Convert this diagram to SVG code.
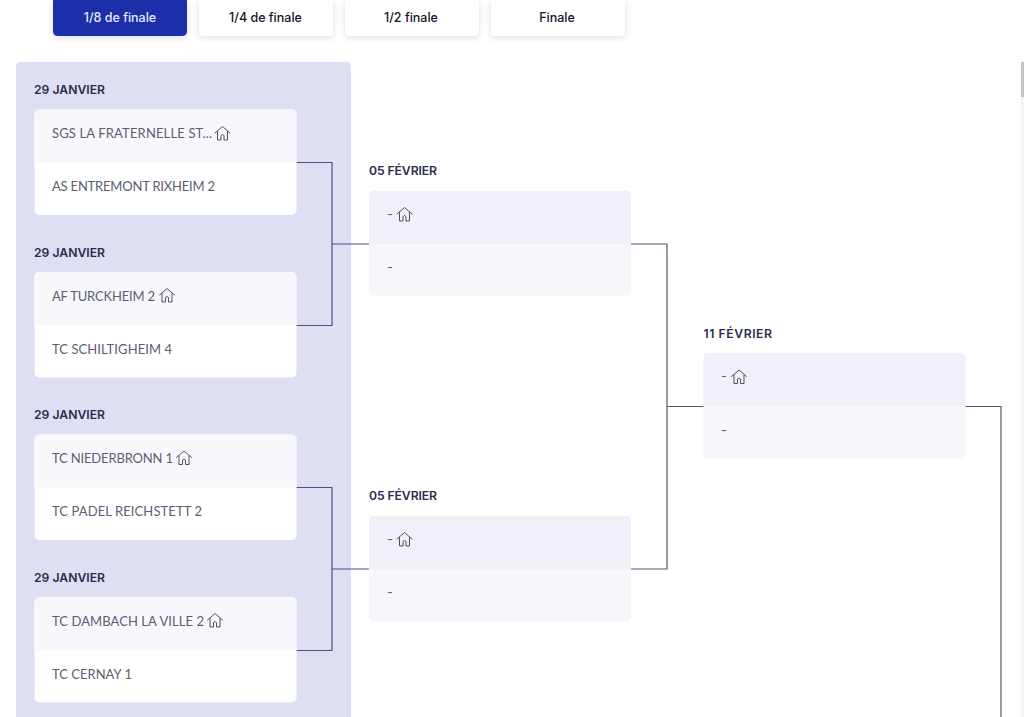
<svg xmlns="http://www.w3.org/2000/svg" width="1024" height="717" viewBox="0 0 1024 717">
<style>
.tab{fill:#fff;filter:url(#sh)}
.tabt{font:500 12.5px Inter,"Liberation Sans",sans-serif;fill:#15152b;text-anchor:middle}
.date{font:600 12.2px Inter,"Liberation Sans",sans-serif;fill:#2b2b4a}
.name{font:400 13px Lato,"Liberation Sans",sans-serif;fill:#5c5d70}
.conn{fill:none;stroke:#4d4f8e;stroke-width:1.2}
.conn2{fill:none;stroke:#55566e;stroke-width:1.2}
.ic{fill:none;stroke:#4f4f62;stroke-width:1;stroke-linejoin:round;stroke-linecap:round}
</style>
<defs>
<filter id="sh" x="-20%" y="-30%" width="140%" height="170%"><feDropShadow dx="0" dy="2" stdDeviation="3" flood-color="#23236a" flood-opacity="0.14"/></filter>
<g id="home"><path class="ic" d="M0 7 7.500 0.500 15 7M2.500 5.500V14H6V9.500Q7.500 7.500 9 9.500V14H12.500V5.500"/></g>
</defs>
<rect width="1024" height="717" fill="#fff"/>
<rect x="1021" y="62" width="3" height="655" fill="#f3f3f3"/>
<rect x="1021" y="62" width="3" height="35" fill="#c4c4c4"/>

<g id="tabs">
<g id="tab-1-8"><path d="M53 0H187V31Q187 36 182 36H58Q53 36 53 31Z" fill="#1f2fa8" filter="url(#sh)"/><text class="tabt" x="120" y="22" style="fill:#e8eaff">1/8 de finale</text></g>
<g id="tab-1-4"><path class="tab" d="M199 0H333V31Q333 36 328 36H204Q199 36 199 31Z"/><text class="tabt" x="265.500" y="22">1/4 de finale</text></g>
<g id="tab-1-2"><path class="tab" d="M345 0H479V31Q479 36 474 36H350Q345 36 345 31Z"/><text class="tabt" x="411" y="22">1/2 finale</text></g>
<g id="tab-f"><path class="tab" d="M491 0H625V31Q625 36 620 36H496Q491 36 491 31Z"/><text class="tabt" x="557" y="22">Finale</text></g>
</g>

<path id="round-panel" d="M16 717V67Q16 62 21 62H346Q351 62 351 67V717Z" fill="#dfdff4"/>

<g id="connectors">
<path class="conn" d="M296 162.500H332V325.500H296M332 244H369"/>
<path class="conn" d="M296 487.500H332V650.500H296M332 569H369"/>
<path class="conn2" d="M631 244H667V569H631M667 406.500H704"/>
<path class="conn2" d="M965 406.500H1001V717"/>
</g>

<g id="match-1">
<text class="date" x="34" y="94" textLength="71">29 JANVIER</text>
<rect x="34.500" y="109.500" width="262" height="105.500" rx="5" fill="#fff"/>
<path d="M34.500 162.500V114.500Q34.500 109.500 39.500 109.500H291.500Q296.500 109.500 296.500 114.500V162.500Z" fill="#f8f8fc"/>
<text class="name" x="52" y="138" textLength="160">SGS LA FRATERNELLE ST...</text><use href="#home" x="215" y="126"/>
<text class="name" x="52" y="191" textLength="163">AS ENTREMONT RIXHEIM 2</text>
</g>
<g id="match-2">
<text class="date" x="34" y="256.500" textLength="71">29 JANVIER</text>
<rect x="34.500" y="272" width="262" height="105.500" rx="5" fill="#fff"/>
<path d="M34.500 325V277Q34.500 272 39.500 272H291.500Q296.500 272 296.500 277V325Z" fill="#f8f8fc"/>
<text class="name" x="52" y="300.500" textLength="103">AF TURCKHEIM 2</text><use href="#home" x="159.500" y="288"/>
<text class="name" x="52" y="353.500" textLength="120">TC SCHILTIGHEIM 4</text>
</g>
<g id="match-3">
<text class="date" x="34" y="419" textLength="71">29 JANVIER</text>
<rect x="34.500" y="434.500" width="262" height="105.500" rx="5" fill="#fff"/>
<path d="M34.500 487.500V439.500Q34.500 434.500 39.500 434.500H291.500Q296.500 434.500 296.500 439.500V487.500Z" fill="#f8f8fc"/>
<text class="name" x="52" y="463" textLength="121">TC NIEDERBRONN 1</text><use href="#home" x="176.500" y="450.500"/>
<text class="name" x="52" y="516" textLength="150">TC PADEL REICHSTETT 2</text>
</g>
<g id="match-4">
<text class="date" x="34" y="581.500" textLength="71">29 JANVIER</text>
<rect x="34.500" y="597" width="262" height="105.500" rx="5" fill="#fff"/>
<path d="M34.500 650V602Q34.500 597 39.500 597H291.500Q296.500 597 296.500 602V650Z" fill="#f8f8fc"/>
<text class="name" x="52" y="625.500" textLength="152">TC DAMBACH LA VILLE 2</text><use href="#home" x="207.500" y="613"/>
<text class="name" x="52" y="678.500" textLength="80">TC CERNAY 1</text>
</g>
<g id="match-5">
<text class="date" x="369" y="175" textLength="68">05 FÉVRIER</text>
<rect x="369" y="191" width="262" height="105" rx="5" fill="#f6f6fb"/>
<path d="M369 244V196Q369 191 374 191H626Q631 191 631 196V244Z" fill="#f0f0f9"/>
<text class="name" x="387" y="219" textLength="6" lengthAdjust="spacingAndGlyphs">-</text><use href="#home" x="397" y="207"/>
<text class="name" x="387" y="272" textLength="6" lengthAdjust="spacingAndGlyphs">-</text>
</g>
<g id="match-6">
<text class="date" x="369" y="500" textLength="68">05 FÉVRIER</text>
<rect x="369" y="516" width="262" height="105" rx="5" fill="#f6f6fb"/>
<path d="M369 569V521Q369 516 374 516H626Q631 516 631 521V569Z" fill="#f0f0f9"/>
<text class="name" x="387" y="544" textLength="6" lengthAdjust="spacingAndGlyphs">-</text><use href="#home" x="397" y="532"/>
<text class="name" x="387" y="597" textLength="6" lengthAdjust="spacingAndGlyphs">-</text>
</g>
<g id="match-7">
<text class="date" x="703.500" y="338" textLength="68.500">11 FÉVRIER</text>
<rect x="703.500" y="353" width="262" height="105.500" rx="5" fill="#f6f6fb"/>
<path d="M703.500 406V358Q703.500 353 708.500 353H960.500Q965.500 353 965.500 358V406Z" fill="#f0f0f9"/>
<text class="name" x="721" y="381" textLength="6" lengthAdjust="spacingAndGlyphs">-</text><use href="#home" x="731.500" y="369.500"/>
<text class="name" x="721" y="435" textLength="6" lengthAdjust="spacingAndGlyphs">-</text>
</g>
</svg>
